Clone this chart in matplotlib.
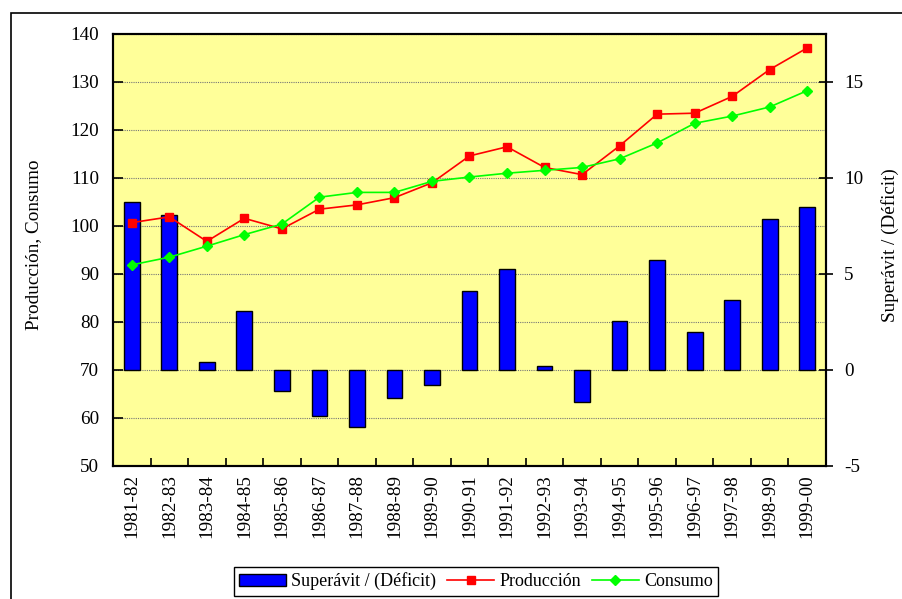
import matplotlib.pyplot as plt
from matplotlib.patches import Rectangle
from matplotlib.ticker import MultipleLocator
import numpy as np

plt.rcParams['font.family'] = ['Liberation Serif', 'DejaVu Serif']
plt.rcParams['axes.unicode_minus'] = False

years = ["1981-82", "1982-83", "1983-84", "1984-85", "1985-86", "1986-87",
         "1987-88", "1988-89", "1989-90", "1990-91", "1991-92", "1992-93",
         "1993-94", "1994-95", "1995-96", "1996-97", "1997-98", "1998-99",
         "1999-00"]
superavit = [8.77, 8.07, 0.42, 3.05, -1.11, -2.4, -2.95, -1.46, -0.77, 4.11,
             5.26, 0.19, -1.69, 2.55, 5.75, 1.98, 3.63, 7.85, 8.49]
produccion = [100.7, 101.9, 96.8, 101.6, 99.4, 103.5, 104.4, 105.9, 109.0,
              114.6, 116.5, 112.2, 110.7, 116.7, 123.3, 123.5, 127.0, 132.6,
              137.1]
consumo = [91.9, 93.5, 95.8, 98.2, 100.4, 106.0, 107.0, 107.0, 109.3, 110.2,
           111.0, 111.6, 112.2, 114.0, 117.3, 121.4, 122.9, 124.8, 128.2]

FS = 13.8
x = np.arange(len(years))

fig = plt.figure(figsize=(9.02, 5.99), dpi=100)

# outer chart frame (cropped on right and bottom like the source)
fig.patches.append(Rectangle((11 / 902, -0.05), 1.0, 1 - 13 / 599 + 0.05,
                             transform=fig.transFigure, fill=False,
                             edgecolor='black', linewidth=1.2))

ax_bar = fig.add_axes([113 / 902, 1 - 466 / 599, 713 / 902, 432 / 599])
ax_bar.set_facecolor('#FFFF99')
ax_line = ax_bar.twinx()

# bars on the right scale
bars = ax_bar.bar(x, superavit, width=0.42, color='#0000FF',
                  edgecolor='black', linewidth=1.0, zorder=3,
                  label='Superávit / (Déficit)')
ax_bar.set_ylim(-5, 17.5)
ax_bar.set_xlim(-0.5, len(years) - 0.5)
ax_bar.yaxis.tick_right()
ax_bar.yaxis.set_label_position('right')
ax_bar.yaxis.set_major_locator(MultipleLocator(5))
ax_bar.yaxis.set_minor_locator(MultipleLocator(2.5))
ax_bar.grid(axis='y', which='both', color='#777777', linestyle=(0, (1, 1)),
            linewidth=0.8, zorder=0)
ax_bar.set_axisbelow(True)
ax_bar.tick_params(axis='y', which='major', direction='inout', length=10,
                   width=1.2, labelsize=FS, pad=8)
ax_bar.tick_params(axis='y', which='minor', length=0)

ax_bar.set_xticks(x)
ax_bar.set_xticklabels(years, rotation=90, fontsize=FS)
ax_bar.set_xticks(np.arange(-0.5, len(years), 1.0), minor=True)
ax_bar.tick_params(axis='x', which='major', length=0, pad=6)
ax_bar.tick_params(axis='x', which='minor', direction='in', length=6,
                   width=1.2)

# lines on the left scale
l1, = ax_line.plot(x, produccion, color='#FF0000', marker='s', markersize=6,
                   linewidth=1.2, label='Producción', zorder=4)
l2, = ax_line.plot(x, consumo, color='#00FF00', marker='D', markersize=5.5,
                   linewidth=1.2, label='Consumo', zorder=4)
ax_line.set_ylim(50, 140)
ax_line.yaxis.tick_left()
ax_line.yaxis.set_label_position('left')
ax_line.yaxis.set_major_locator(MultipleLocator(10))
ax_line.tick_params(axis='y', direction='in', length=7, width=1.2,
                    labelsize=FS, pad=10)

for a in (ax_bar, ax_line):
    for s in a.spines.values():
        s.set_linewidth(1.5)

fig.text(34 / 902, 1 - 245 / 599, 'Producción, Consumo', rotation=90,
         ha='center', va='center', fontsize=FS)
fig.text(890 / 902, 1 - 245 / 599, 'Superávit / (Déficit)', rotation=90,
         ha='center', va='center', fontsize=FS)

leg = fig.legend([bars, l1, l2],
                 ['Superávit / (Déficit)', 'Producción', 'Consumo'],
                 loc='upper center', bbox_to_anchor=(476 / 902, 1 - 567 / 599),
                 ncol=3, fontsize=13, frameon=True, fancybox=False,
                 framealpha=1, edgecolor='black', handlelength=2.6,
                 handletextpad=0.3, columnspacing=0.6, borderpad=0.3,
                 borderaxespad=0)
leg.get_frame().set_linewidth(1.0)

fig.savefig('out.png', dpi=100)
